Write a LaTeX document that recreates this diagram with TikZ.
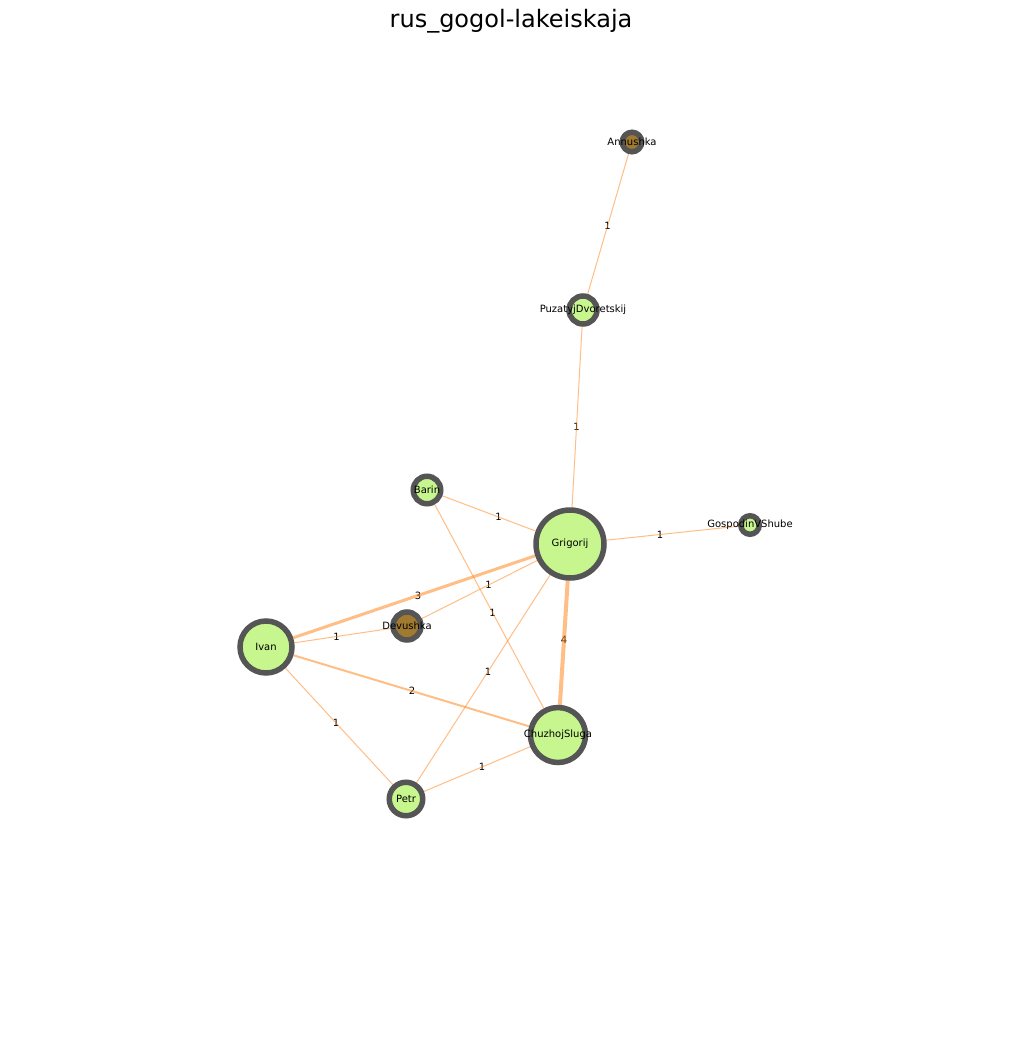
\documentclass[tikz,border=0pt]{standalone}
\usepackage{fontspec}
\setmainfont{DejaVu Sans}
\definecolor{ngreen}{RGB}{198,246,141}
\definecolor{nbrown}{RGB}{160,122,46}
\definecolor{nborder}{RGB}{85,85,85}
\definecolor{eorange}{RGB}{255,127,14}
\pgfdeclarelayer{bgl}
\pgfdeclarelayer{labs}
\pgfdeclarelayer{edges}
\pgfsetlayers{bgl,labs,edges,main}
\tikzset{
  vtx/.style={circle, draw=nborder, line width=5.5pt, inner sep=0pt, fill=ngreen, minimum size=#1},
  vtxb/.style={vtx=#1, fill=nbrown},
  vlab/.style={font=\fontsize{10}{12}\selectfont, inner sep=0pt, text=black},
  elab/.style={font=\fontsize{10}{12}\selectfont, inner sep=0pt, text=black, midway},
  ed/.style={draw=eorange, draw opacity=0.5, line width=#1},
  ed/.default=1pt
}
\begin{document}
\begin{tikzpicture}[x=1pt,y=-1pt]
\useasboundingbox (0,0) rectangle (1022,1047);
\begin{pgfonlayer}{bgl}
\fill[white] (0,0) rectangle (1022,1047);
\end{pgfonlayer}
\node[font=\fontsize{24}{28}\selectfont, anchor=base] (title) at (511,27) {rus\_gogol-lakeiskaja};
% nodes (diameter = 2*outer radius - border width)
\node[vtxb=19.5pt] (ann) at (632,142) {};
\node[vtx=28pt] (puz) at (583,310) {};
\node[vtx=27.5pt] (bar) at (427,490) {};
\node[vtx=68pt] (gri) at (570,544) {};
\node[vtx=18.5pt] (gos) at (750,525) {};
\node[vtxb=28pt] (dev) at (407,626) {};
\node[vtx=52pt] (iva) at (266,647) {};
\node[vtx=55pt] (chu) at (558,735) {};
\node[vtx=33.5pt] (pet) at (406,799) {};
% node labels
\node[vlab] (lann) at (ann.center) {Annushka};
\node[vlab] (lpuz) at (puz.center) {PuzatyjDvoretskij};
\node[vlab] (lbar) at (bar.center) {Barin};
\node[vlab] (lgri) at (gri.center) {Grigorij};
\node[vlab] (lgos) at (gos.center) {GospodinVShube};
\node[vlab] (ldev) at (dev.center) {Devushka};
\node[vlab] (liva) at (iva.center) {Ivan};
\node[vlab] (lchu) at (chu.center) {ChuzhojSluga};
\node[vlab] (lpet) at (pet.center) {Petr};
% edge labels
\begin{pgfonlayer}{labs}
\path (ann.center) -- (puz.center) node[elab] (w1) {1};
\path (puz.center) -- (gri.center) node[elab] (w2) {1};
\path (bar.center) -- (gri.center) node[elab] (w3) {1};
\path (gri.center) -- (gos.center) node[elab] (w4) {1};
\path (gri.center) -- (iva.center) node[elab] (w5) {3};
\path (gri.center) -- (dev.center) node[elab] (w6) {1};
\path (bar.center) -- (chu.center) node[elab] (w7) {1};
\path (gri.center) -- (chu.center) node[elab] (w8) {4};
\path (iva.center) -- (dev.center) node[elab] (w9) {1};
\path (gri.center) -- (pet.center) node[elab] (w10) {1};
\path (iva.center) -- (chu.center) node[elab] (w11) {2};
\path (iva.center) -- (pet.center) node[elab] (w12) {1};
\path (pet.center) -- (chu.center) node[elab] (w13) {1};
\end{pgfonlayer}
% edges
\begin{pgfonlayer}{edges}
\draw[ed] (ann) -- (puz);
\draw[ed] (puz) -- (gri);
\draw[ed] (bar) -- (gri);
\draw[ed] (gri) -- (gos);
\draw[ed=3pt] (gri) -- (iva);
\draw[ed] (gri) -- (dev);
\draw[ed] (bar) -- (chu);
\draw[ed=4pt] (gri) -- (chu);
\draw[ed] (iva) -- (dev);
\draw[ed] (gri) -- (pet);
\draw[ed=2pt] (iva) -- (chu);
\draw[ed] (iva) -- (pet);
\draw[ed] (pet) -- (chu);
\end{pgfonlayer}
\end{tikzpicture}
\end{document}
